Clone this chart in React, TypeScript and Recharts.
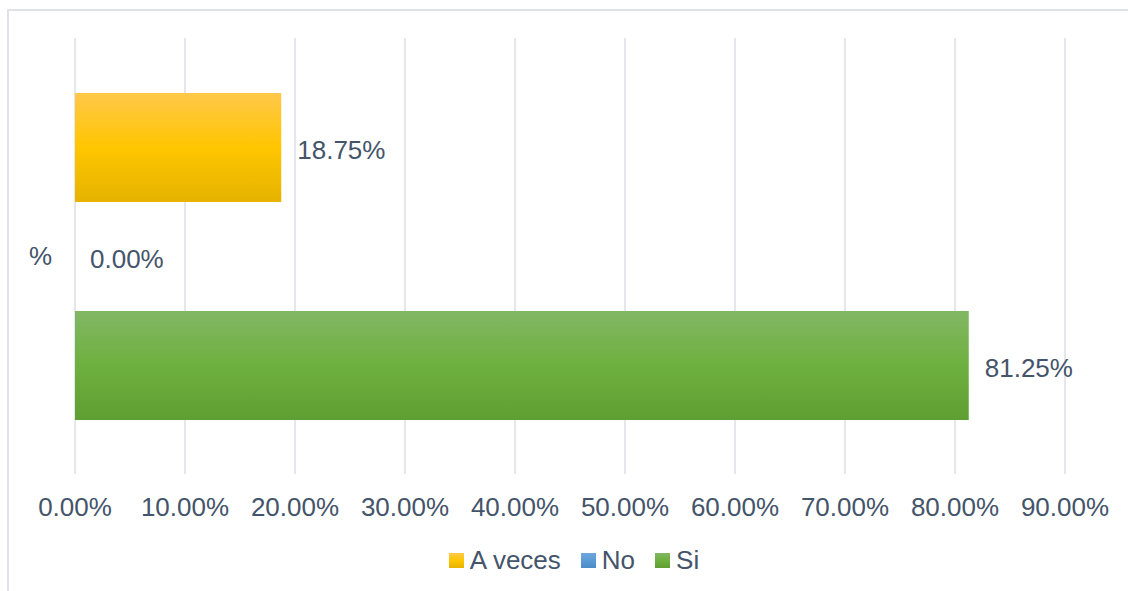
import { Bar, BarChart, CartesianGrid, LabelList, Legend, XAxis, YAxis } from 'recharts';

const categories = ['%'];
const aVeces = [18.75];
const no = [0];
const si = [81.25];
const xTicks = [0, 10, 20, 30, 40, 50, 60, 70, 80, 90];

const data = categories.map((name, i) => ({
  name,
  'A veces': aVeces[i],
  No: no[i],
  Si: si[i],
}));

const ink = '#44546A';
const font = '"Liberation Sans", Arial, sans-serif';
const pct = (v: number) => `${Number(v).toFixed(2)}%`;

function LegendRow({ payload }: any) {
  return (
    <div style={{ display: 'flex', justifyContent: 'center', alignItems: 'center', height: 30 }}>
      {(payload || []).map((p: any, i: number) => (
        <div key={p.value} style={{ display: 'flex', alignItems: 'center', marginLeft: i === 0 ? 0 : 20 }}>
          <svg width={15} height={15} style={{ marginRight: 6 }}>
            <rect width={15} height={15} fill={`url(#g${i})`} />
          </svg>
          <span style={{ fontSize: 26, color: ink, fontFamily: font }}>{p.value}</span>
        </div>
      ))}
    </div>
  );
}

export default function App() {
  return (
    <div style={{ position: 'fixed', left: 0, top: 0, width: 1128, height: 591, overflow: 'hidden', background: '#fff' }}>
      <div
        style={{
          position: 'absolute',
          left: 7,
          top: 9,
          width: 1140,
          height: 600,
          border: '2px solid #dfe2e9',
        }}
      />
      <div style={{ position: 'absolute', left: 0, top: 0 }}>
        <BarChart
          width={1128}
          height={591}
          data={data}
          layout="vertical"
          margin={{ top: 38, right: 63, bottom: 37, left: 0 }}
          barGap={0}
          barSize={109}
          style={{ fontFamily: font }}
        >
          <defs>
            <linearGradient id="g0" x1="0" y1="0" x2="0" y2="1">
              <stop offset="0%" stopColor="#ffc84a" />
              <stop offset="50%" stopColor="#ffc600" />
              <stop offset="100%" stopColor="#e5b300" />
            </linearGradient>
            <linearGradient id="g1" x1="0" y1="0" x2="0" y2="1">
              <stop offset="0%" stopColor="#6ea5dd" />
              <stop offset="50%" stopColor="#5b9bd5" />
              <stop offset="100%" stopColor="#4a8bc8" />
            </linearGradient>
            <linearGradient id="g2" x1="0" y1="0" x2="0" y2="1">
              <stop offset="0%" stopColor="#82b764" />
              <stop offset="50%" stopColor="#6eb03f" />
              <stop offset="100%" stopColor="#5f9e32" />
            </linearGradient>
          </defs>
          <CartesianGrid horizontal={false} stroke="#dcdfe6" strokeWidth={1.5} />
          <XAxis
            type="number"
            domain={[0, 90]}
            ticks={xTicks}
            tickFormatter={pct}
            axisLine={false}
            tickLine={false}
            tickSize={0}
            tickMargin={24}
            height={50}
            interval={0}
            tick={{ fontSize: 26, fill: ink }}
          />
          <YAxis
            type="category"
            dataKey="name"
            width={75}
            axisLine={false}
            tickLine={false}
            tickSize={0}
            tickMargin={23}
            tick={{ fontSize: 26, fill: ink }}
          />
          <Legend
            verticalAlign="bottom"
            content={<LegendRow />}
            wrapperStyle={{ left: 10, width: 1128, bottom: 16 }}
          />
          <Bar dataKey="A veces" fill="url(#g0)" isAnimationActive={false}>
            <LabelList dataKey="A veces" position="right" offset={16} formatter={pct} fill={ink} fontSize={26} dy={2} />
          </Bar>
          <Bar dataKey="No" fill="url(#g1)" minPointSize={0.01} isAnimationActive={false}>
            <LabelList dataKey="No" position="right" offset={15} formatter={pct} fill={ink} fontSize={26} dy={2} />
          </Bar>
          <Bar dataKey="Si" fill="url(#g2)" isAnimationActive={false}>
            <LabelList dataKey="Si" position="right" offset={16} formatter={pct} fill={ink} fontSize={26} dy={2} />
          </Bar>
        </BarChart>
      </div>
    </div>
  );
}
